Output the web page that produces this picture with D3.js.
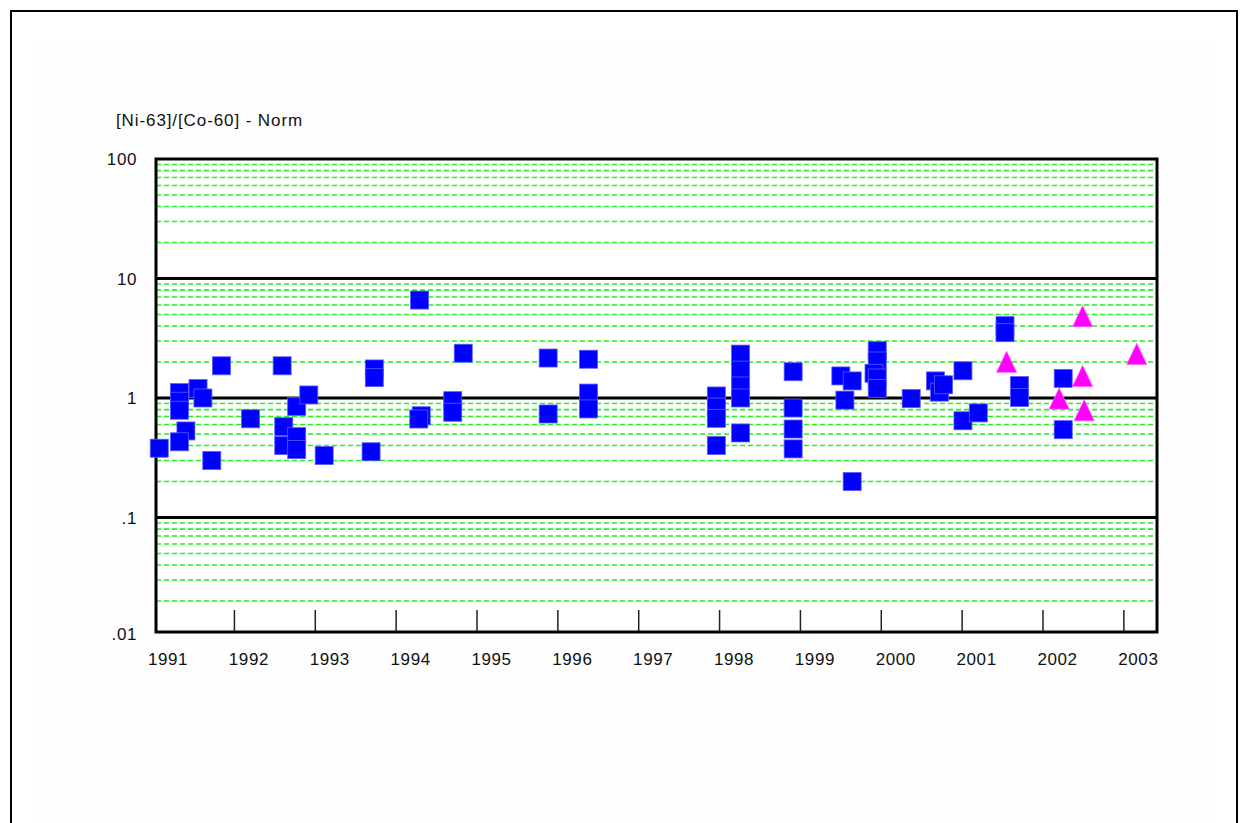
<!DOCTYPE html>
<html>
<head>
<meta charset="utf-8">
<script src="https://cdn.jsdelivr.net/npm/d3@7"></script>
<style>
  html, body { margin: 0; padding: 0; background: #ffffff; }
  svg { display: block; }
  text { font-family: "Liberation Sans", Arial, sans-serif; fill: #111; }
</style>
</head>
<body>
<svg id="chart" width="1248" height="823"></svg>
<script>
// Normalised [Ni-63]/[Co-60] ratio per sample, by sampling date (decimal year)
const squareYears = [
  1991.07, 1991.32, 1991.32, 1991.32, 1991.55, 1991.61, 1991.40, 1991.32, 1991.72, 1991.84,
  1992.20, 1992.59, 1992.77, 1992.92, 1992.61, 1992.61, 1992.77, 1992.77, 1993.11,
  1993.73, 1993.73, 1993.69, 1994.29, 1994.31, 1994.28, 1994.70, 1994.70, 1994.83,
  1995.88, 1995.88, 1996.38, 1996.38, 1996.38,
  1997.96, 1997.96, 1997.96, 1997.96, 1998.26, 1998.26, 1998.26, 1998.26, 1998.26,
  1998.91, 1998.91, 1998.91, 1998.91, 1999.50, 1999.64, 1999.55, 1999.64,
  1999.95, 1999.95, 1999.91, 1999.95, 1999.95, 2000.37, 2000.67, 2000.72, 2000.77,
  2001.01, 2001.01, 2001.20, 2001.53, 2001.53, 2001.71, 2001.71, 2002.25, 2002.25
];
const squareValues = [
  0.38, 1.11, 0.94, 0.79, 1.20, 1.00, 0.53, 0.43, 0.30, 1.86,
  0.67, 1.86, 0.85, 1.06, 0.575, 0.40, 0.475, 0.37, 0.33,
  1.75, 1.48, 0.355, 6.6, 0.71, 0.667, 0.95, 0.76, 2.37,
  2.16, 0.735, 2.11, 1.10, 0.81,
  1.04, 0.84, 0.676, 0.40, 2.33, 1.71, 1.26, 1.00, 0.51,
  1.66, 0.825, 0.55, 0.375, 1.53, 1.39, 0.96, 0.20,
  2.49, 2.04, 1.61, 1.47, 1.20, 0.99, 1.39, 1.12, 1.29,
  1.69, 0.645, 0.75, 4.03, 3.52, 1.27, 1.01, 1.46, 0.543
];
const triangleYears  = [2001.55, 2002.20, 2002.49, 2002.49, 2002.51, 2003.16];
const triangleValues = [2.01, 0.99, 4.84, 1.53, 0.79, 2.34];

const xTickYears  = [1991, 1992, 1993, 1994, 1995, 1996, 1997, 1998, 1999, 2000, 2001, 2002, 2003];
const yTickValues = [100, 10, 1, 0.1, 0.01];
const yTickLabels = ["100", "10", "1", ".1", ".01"];
const majorGrid   = [10, 1, 0.1];
const decades     = [0.01, 0.1, 1, 10];
const minorSteps  = [2, 3, 4, 5, 6, 7, 8, 9];

const svg = d3.select("#chart");

// page frame and faint panel
svg.append("rect").attr("x", 31).attr("y", 40).attr("width", 1186).attr("height", 800)
  .attr("fill", "#fefefe");
svg.append("path").attr("d", "M11,830 V11 H1237 V830")
  .attr("fill", "none").attr("stroke", "#000").attr("stroke-width", 2);

const plotLeft = 156, plotRight = 1157, plotBottom = 632;

const x = d3.scaleLinear().domain([1991.03, 2003.41]).range([plotLeft, plotRight]);
const y = d3.scaleLog().domain([0.01, 100]).range([637, 159]);
const plotTop = y(100);

// white plot area
svg.append("rect")
  .attr("x", plotLeft).attr("y", plotTop)
  .attr("width", plotRight - plotLeft).attr("height", plotBottom - plotTop)
  .attr("fill", "#ffffff");

// minor dashed grid
const minorVals = decades.flatMap(d => minorSteps.map(m => d * m));
svg.append("g").selectAll("line").data(minorVals).join("line")
  .attr("x1", plotLeft).attr("x2", plotRight)
  .attr("y1", d => y(d)).attr("y2", d => y(d))
  .attr("stroke", "#22ee22").attr("stroke-width", 1.6)
  .attr("stroke-dasharray", "5,3");

// major decade lines
svg.append("g").selectAll("line").data(majorGrid).join("line")
  .attr("x1", plotLeft).attr("x2", plotRight)
  .attr("y1", d => y(d)).attr("y2", d => y(d))
  .attr("stroke", "#000").attr("stroke-width", 3);

// year ticks on the bottom axis, pointing up
svg.append("g").selectAll("line").data(xTickYears.filter(v => x(v) > plotLeft + 2)).join("line")
  .attr("x1", d => x(d)).attr("x2", d => x(d))
  .attr("y1", plotBottom - 22).attr("y2", plotBottom)
  .attr("stroke", "#222").attr("stroke-width", 1.5);

// plot frame
svg.append("rect")
  .attr("x", plotLeft).attr("y", plotTop)
  .attr("width", plotRight - plotLeft).attr("height", plotBottom - plotTop)
  .attr("fill", "none").attr("stroke", "#000").attr("stroke-width", 3);

// year labels
svg.append("g").selectAll("text").data(xTickYears).join("text")
  .attr("x", d => x(d) + 14.5).attr("y", 665)
  .attr("text-anchor", "middle")
  .style("font-size", "17px").style("letter-spacing", "0.6px")
  .text(d => d);

// value labels
svg.append("g").selectAll("text").data(yTickValues).join("text")
  .attr("x", 137).attr("y", (d, i) => Math.min(y(d), 634))
  .attr("dy", "0.36em")
  .attr("text-anchor", "end")
  .style("font-size", "17px").style("letter-spacing", "0.6px")
  .text((d, i) => yTickLabels[i]);

// axis title
svg.append("text").attr("x", 116).attr("y", 126)
  .style("font-size", "17px").style("letter-spacing", "0.9px")
  .text("[Ni-63]/[Co-60] - Norm");

// square markers
const sq = 18;
svg.append("g").selectAll("rect").data(squareYears.map((t, i) => [t, squareValues[i]])).join("rect")
  .attr("x", d => x(d[0]) - sq / 2).attr("y", d => y(d[1]) - sq / 2)
  .attr("width", sq).attr("height", sq)
  .attr("fill", "#0000ff").attr("stroke", "#5a5aff").attr("stroke-width", 0.8);

// triangle markers
const tw = 20, th = 21;
svg.append("g").selectAll("path").data(triangleYears.map((t, i) => [t, triangleValues[i]])).join("path")
  .attr("d", d => {
    const cx = x(d[0]), cy = y(d[1]);
    return `M${cx},${cy - th / 2} L${cx + tw / 2},${cy + th / 2} L${cx - tw / 2},${cy + th / 2} Z`;
  })
  .attr("fill", "#ff00ff").attr("stroke", "#ff55ff").attr("stroke-width", 0.8);
</script>
</body>
</html>
